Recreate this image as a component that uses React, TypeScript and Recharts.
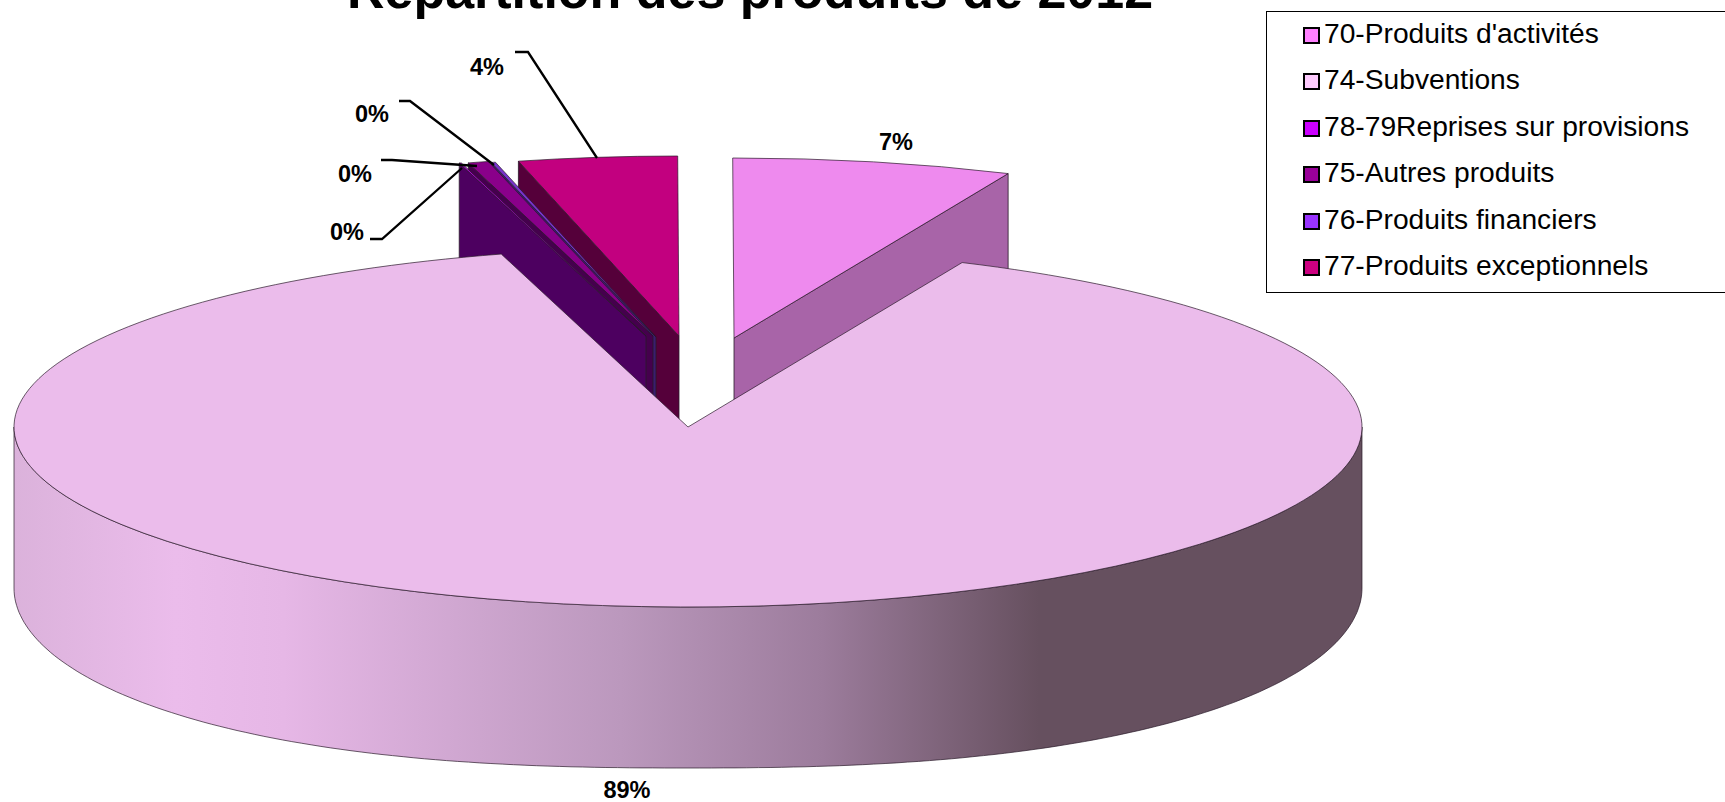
import React from 'react';
import { PieChart, Pie, Legend } from 'recharts';

// Data, in legend order
const categories = [
  "70-Produits d'activités",
  '74-Subventions',
  '78-79Reprises sur provisions',
  '75-Autres produits',
  '76-Produits financiers',
  '77-Produits exceptionnels',
];
const values = [6.7, 88.9, 0.05, 0.49, 0.1, 3.8];
// Painter's order round the pie, counter-clockwise, so the big slice lands on top
const drawOrder = [0, 5, 4, 3, 2, 1];
const chartTitle = 'Répartition des produits de 2012';

const legendFill = ['#ff80ff', '#ffccff', '#cc00ff', '#990099', '#9933ff', '#cc0080'];
const topFill = ['#ee8aee', '#ebbceb', '#b000d8', '#8a008a', '#7733cc', '#c2007f'];
const faceFill = ['#a864a8', '#ebbceb', '#4d0060', '#45004d', '#3a1d70', '#55003a'];
const explode: [number, number][] = [[46, -89], [0, 0], [-42, -91], [-35, -91], [-32, -90], [-9, -91]];
const labelPath: ([number, number][] | null)[] = [
  null,
  null,
  [[462, 168], [382, 239], [370, 239]],
  [[477, 166], [392, 160], [381, 160]],
  [[494, 165], [410, 101], [399, 101]],
  [[597, 158], [528, 52], [515, 52]],
];
const labelPos: [number, number][] = [[896, 142], [627, 790], [347, 232], [355, 174], [372, 114], [487, 67]];

const W = 1725, H = 802;
const CX = 688, CY = 427, RX = 674, RY = 180, DEPTH = 161;
const STROKE = '#2a1a2a';

const pieData = drawOrder.map((i) => ({ name: categories[i], value: values[i] }));

// Lower rim of the drum: rounder at the ends than the top ellipse
const lowerRim = (cx: number, cy: number) => {
  const pts: string[] = [];
  for (let k = 0; k <= 180; k++) {
    const u = Math.cos((k * Math.PI) / 180);
    const y = Math.sqrt(Math.max(0, 1 - Math.pow(Math.abs(u), 2.45)));
    pts.push(`${(cx + RX * u).toFixed(1)},${(cy + DEPTH + RY * y).toFixed(1)}`);
  }
  return pts.join(' L');
};

const SliceShape = (props: any) => {
  const i = categories.indexOf(props.name ?? props.payload?.name);
  const [ox, oy] = explode[i];
  const a0 = Math.min(props.startAngle, props.endAngle);
  const a1 = Math.max(props.startAngle, props.endAngle);
  const cx = props.cx + ox, cy = props.cy + oy;
  const pt = (deg: number, dy = 0): [number, number] => [
    cx + RX * Math.cos((deg * Math.PI) / 180),
    cy - RY * Math.sin((deg * Math.PI) / 180) + dy,
  ];
  const big = a1 - a0 > 180;
  const [sx, sy] = pt(a0);
  const [ex, ey] = pt(a1);
  const top = `M${cx},${cy} L${sx},${sy} A${RX},${RY} 0 ${big ? 1 : 0} 0 ${ex},${ey} Z`;
  const mid = (a0 + a1) / 2;
  const faceAt = mid < 90 ? a0 : a1;
  const [fx, fy] = pt(faceAt);
  return (
    <g>
      {big ? (
        <>
          <defs>
            <linearGradient id="wall" gradientUnits="userSpaceOnUse" x1={cx - RX} x2={cx + RX} y1={0} y2={0}>
              <stop offset="0" stopColor="#dbb2db" />
              <stop offset="0.12" stopColor="#ebbceb" />
              <stop offset="0.2" stopColor="#e6b7e6" />
              <stop offset="0.45" stopColor="#bb98bd" />
              <stop offset="0.6" stopColor="#9c7c9c" />
              <stop offset="0.76" stopColor="#66505f" />
              <stop offset="1" stopColor="#66505f" />
            </linearGradient>
          </defs>
          <path
            d={`M${cx - RX},${cy} A${RX},${RY} 0 0 0 ${cx + RX},${cy} L${lowerRim(cx, cy)} Z`}
            fill="url(#wall)"
            stroke={STROKE}
            strokeWidth={0.7}
          />
        </>
      ) : (
        <path
          d={`M${cx},${cy} L${fx},${fy} L${fx},${fy + DEPTH} L${cx},${cy + DEPTH} Z`}
          fill={faceFill[i]}
          stroke={STROKE}
          strokeWidth={0.8}
        />
      )}
      <path d={top} fill={topFill[i]} stroke={STROKE} strokeWidth={0.7} />
    </g>
  );
};

const renderLabel = (props: any) => {
  const i = categories.indexOf(props.name);
  const path = labelPath[i];
  const [x, y] = labelPos[i];
  return (
    <g key={props.name}>
      {path && (
        <polyline points={path.map((p) => p.join(',')).join(' ')} fill="none" stroke="#000" strokeWidth={2.3} />
      )}
      <text
        x={x}
        y={y}
        textAnchor="middle"
        dominantBaseline="central"
        fontFamily="'Liberation Sans', Arial, sans-serif"
        fontWeight="bold"
        fontSize={23.5}
        fill="#000"
      >
        {`${Math.round(props.percent * 100)}%`}
      </text>
    </g>
  );
};

const LegendBox = () => (
  <div
    style={{
      position: 'absolute',
      left: 1266,
      top: 11,
      width: 480,
      height: 280,
      border: '1px solid #000',
      boxSizing: 'content-box',
      background: '#fff',
      fontFamily: "'Liberation Sans', Arial, sans-serif",
      fontSize: 28.2,
      color: '#000',
    }}
  >
    {categories.map((c, i) => (
      <div key={c} style={{ position: 'absolute', left: 0, top: i * 46.4, height: 46, width: 480 }}>
        <span
          style={{
            position: 'absolute',
            left: 36,
            top: 15,
            width: 13,
            height: 13,
            border: '2px solid #000',
            background: legendFill[i],
          }}
        />
        <span style={{ position: 'absolute', left: 57, top: 5, lineHeight: '32px', whiteSpace: 'nowrap' }}>{c}</span>
      </div>
    ))}
  </div>
);

export default function App() {
  return (
    <div style={{ position: 'absolute', left: 0, top: 0, width: W, height: H, overflow: 'hidden', background: '#fff' }}>
      <PieChart width={W} height={H} margin={{ top: 0, right: 0, bottom: 0, left: 0 }}>
        <text
          x={750}
          y={8}
          textAnchor="middle"
          fontFamily="'Liberation Sans', Arial, sans-serif"
          fontWeight="bold"
          fontSize={52}
          fill="#000"
        >
          {chartTitle}
        </text>
        <Pie
          data={pieData}
          dataKey="value"
          nameKey="name"
          cx={CX}
          cy={CY}
          innerRadius={0}
          outerRadius={RX}
          startAngle={66}
          endAngle={426}
          paddingAngle={0}
          isAnimationActive={false}
          shape={SliceShape}
          label={renderLabel}
          labelLine={false}
        />
        <Legend content={LegendBox} wrapperStyle={{ position: 'absolute', left: 0, top: 0, width: 0, height: 0 }} />
      </PieChart>
    </div>
  );
}
